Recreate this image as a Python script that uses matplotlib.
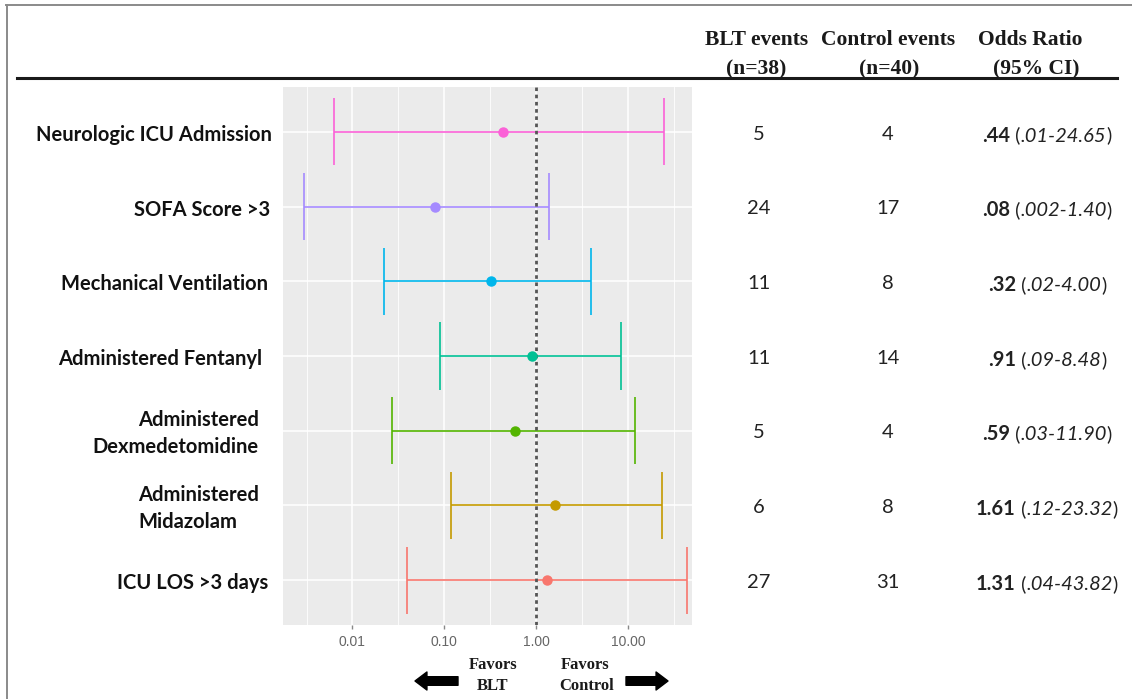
import matplotlib
matplotlib.use("Agg")
import matplotlib.pyplot as plt
import matplotlib.transforms as mtransforms
from matplotlib.lines import Line2D
from matplotlib.patches import FancyArrowPatch

# data (top row first)
outcomes = ["Neurologic ICU Admission", "SOFA Score >3", "Mechanical Ventilation",
            "Administered Fentanyl", "Administered\nDexmedetomidine",
            "Administered\nMidazolam", "ICU LOS >3 days"]
odds = [0.44, 0.08, 0.32, 0.91, 0.59, 1.61, 1.31]
ci_low = [0.0063, 0.003, 0.022, 0.09, 0.027, 0.118, 0.039]
ci_high = [24.65, 1.40, 4.00, 8.48, 11.90, 23.32, 43.82]
blt_events = [5, 24, 11, 11, 5, 6, 27]
ctrl_events = [4, 17, 8, 14, 4, 8, 31]
or_text = [".44", ".08", ".32", ".91", ".59", "1.61", "1.31"]
ci_text = [".01-24.65", ".002-1.40", ".02-4.00", ".09-8.48", ".03-11.90",
           ".12-23.32", ".04-43.82"]
colors = ["#FB61D7", "#A58AFF", "#00B6EB", "#00C094", "#53B400", "#C49A00", "#F8766D"]
xticks = [0.01, 0.1, 1, 10]
xtick_labels = ["0.01", "0.10", "1.00", "10.00"]
minor_ticks = [10 ** -2.5, 10 ** -1.5, 10 ** -0.5, 10 ** 0.5, 10 ** 1.5]

W, H = 1132, 699
fig = plt.figure(figsize=(W / 100, H / 100), dpi=100)
fig.patch.set_facecolor("white")


def fx(x):
    return x / W


def fy(y):
    return 1 - y / H


# panel
ax = fig.add_axes([fx(283), fy(625), fx(692 - 283), (625 - 87) / H])
ax.set_facecolor("#EBEBEB")
ax.set_xscale("log")
ax.set_xlim(10 ** -2.756, 10 ** 1.699)
ax.set_ylim(0.4, 7.6)
for s in ax.spines.values():
    s.set_visible(False)

rows = [len(outcomes) - i for i in range(len(outcomes))]

for m in minor_ticks:
    ax.axvline(m, color="white", lw=0.6, zorder=0)
for t in xticks:
    ax.axvline(t, color="white", lw=1.1, zorder=0)
for r in rows:
    ax.axhline(r, color="white", lw=1.1, zorder=0)

ax.axvline(1, color="#555555", lw=2.0, ls=(0, (1.3, 1.3)), zorder=3)

for r, o, lo, hi, c in zip(rows, odds, ci_low, ci_high, colors):
    ax.hlines(r, lo, hi, color=c, lw=1.2, zorder=2)
    ax.vlines([lo, hi], r - 0.45, r + 0.45, color=c, lw=1.2, zorder=2)
    ax.plot(o, r, "o", color=c, ms=6.5, zorder=4)

ax.set_xticks(xticks)
ax.set_xticklabels(xtick_labels, fontfamily="Liberation Sans", fontsize=10, color="#666666")
ax.xaxis.set_minor_locator(matplotlib.ticker.NullLocator())
ax.tick_params(axis="x", length=3, width=1, color="#888888", pad=4)
ax.set_yticks([])

# text beside the panel
blend = mtransforms.blended_transform_factory(fig.transFigure, ax.transData)
label_right = [272, 270, 268, 262, 259, 259, 268]
label_align = ["right", "right", "right", "right", "right", "left", "right"]
for r, lab, xr, al in zip(rows, outcomes, label_right, label_align):
    ax.text(fx(xr), r - 0.04, lab, transform=blend, ha="right", va="center",
            multialignment=al, fontfamily="Lato", fontweight="bold", fontsize=14.5,
            color="#111111", linespacing=1.42)

for r, b, c in zip(rows, blt_events, ctrl_events):
    ax.text(fx(759), r - 0.03, str(b), transform=blend, ha="center", va="center",
            fontfamily="Lato", fontsize=14.5, color="#222222")
    ax.text(fx(888), r - 0.03, str(c), transform=blend, ha="center", va="center",
            fontfamily="Lato", fontsize=14.5, color="#222222")

renderer = fig.canvas.get_renderer()
for r, ot, ct in zip(rows, or_text, ci_text):
    pieces = [(ot, "bold", "normal"), (" (", "normal", "normal"),
              (ct, "normal", "italic"), (")", "normal", "normal")]
    arts = []
    for s, wgt, sty in pieces:
        arts.append(ax.text(0, r - 0.13, s, transform=blend, ha="left", va="baseline",
                            fontfamily="Lato", fontweight=wgt, fontstyle=sty,
                            fontsize=14.5, color="#222222"))
    widths = [a.get_window_extent(renderer).width for a in arts]
    x = 1047 - sum(widths) / 2
    for a, w in zip(arts, widths):
        a.set_x(fx(x))
        x += w

# header
hdr = dict(fontfamily="Liberation Serif", fontweight="bold", fontsize=15.5,
           color="#1a1a1a", ha="center", va="center")
fig.text(fx(757), fy(40), "BLT events", **hdr)
fig.text(fx(756), fy(69), "(n=38)", **hdr)
fig.text(fx(888), fy(40), "Control events", **hdr)
fig.text(fx(889), fy(69), "(n=40)", **hdr)
fig.text(fx(1030), fy(40), "Odds Ratio", **hdr)
fig.text(fx(1036), fy(69), "(95% CI)", **hdr)
fig.add_artist(Line2D([fx(17), fx(1117)], [fy(78), fy(78)], color="#1a1a1a", lw=2.2))

# frame of the picture
fig.add_artist(Line2D([fx(6), fx(1132)], [fy(5), fy(5)], color="#8a8a8a", lw=1.4))
fig.add_artist(Line2D([fx(6.5), fx(6.5)], [fy(5), fy(699)], color="#8a8a8a", lw=1.4))

# favours annotation
fav = dict(fontfamily="Liberation Serif", fontweight="bold", fontsize=12,
           color="#1a1a1a", ha="center", va="center")
fig.text(fx(493), fy(665), "Favors", **fav)
fig.text(fx(493), fy(686), "BLT", **fav)
fig.text(fx(585), fy(665), "Favors", **fav)
fig.text(fx(587), fy(686), "Control", **fav)
style = "simple,head_length=0.86,head_width=1.3,tail_width=0.62"
fig.add_artist(FancyArrowPatch((fx(458), fy(681)), (fx(415), fy(681)),
                               transform=fig.transFigure, arrowstyle=style,
                               mutation_scale=10, color="black", shrinkA=0, shrinkB=0))
fig.add_artist(FancyArrowPatch((fx(626), fy(681)), (fx(668), fy(681)),
                               transform=fig.transFigure, arrowstyle=style,
                               mutation_scale=10, color="black", shrinkA=0, shrinkB=0))

fig.savefig("out.png", dpi=100)
